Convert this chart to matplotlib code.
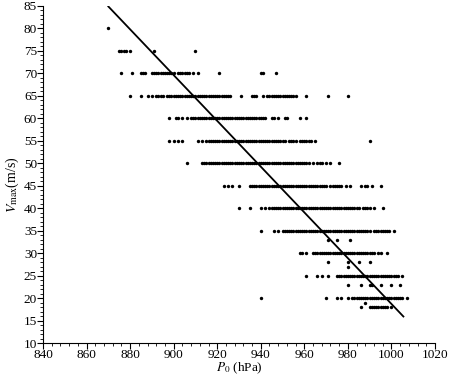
import matplotlib
matplotlib.use("Agg")
import matplotlib.pyplot as plt
from matplotlib.ticker import MultipleLocator

# ---- data: pressure (hPa) values observed at each Vmax level (m/s) ----
p_v80 = [870]
p_v75 = [875, 876, 877, 878, 880, 891, 910]
p_v70 = [876, 881, 885, 886, 887, 890, 891, 892, 893, 894, 895, 896, 897, 898,
         899, 900, 902, 903, 904, 905, 906, 907, 909, 911, 921, 940, 941, 947]
p_v65 = [880, 885, 888, 890, 892, 893, 894, 895, 897, 898, 899, 900, 901, 902,
         903, 904, 905, 906, 907, 908, 909, 910, 911, 912, 913, 914, 915, 916,
         917, 918, 919, 920, 921, 922, 923, 924, 925, 926, 931, 936, 937, 938,
         941, 943, 944, 945, 946, 947, 948, 949, 950, 951, 952, 953, 954, 955,
         956, 961, 971, 980]
p_v60 = [898, 901, 902, 904, 906, 908, 909, 910, 911, 912, 913, 914, 915, 916,
         917, 918, 919, 920, 921, 922, 923, 924, 925, 926, 927, 928, 929, 930,
         931, 932, 933, 934, 935, 936, 937, 938, 939, 940, 941, 942, 945, 946,
         948, 951, 952, 958, 961]
p_v55 = [898, 900, 902, 904, 911, 913, 915, 916, 917, 918, 919, 920, 921, 922,
         923, 924, 925, 926, 927, 928, 929, 930, 931, 932, 933, 934, 935, 936,
         937, 938, 939, 940, 941, 942, 943, 944, 945, 946, 947, 948, 949, 950,
         951, 953, 954, 955, 956, 958, 959, 960, 961, 962, 963, 965, 990]
p_v50 = [906, 913, 914, 915, 916, 917, 918, 919, 920, 921, 922, 923, 924, 925,
         926, 927, 928, 929, 930, 931, 932, 933, 934, 935, 936, 937, 938, 939,
         940, 941, 942, 943, 944, 945, 946, 947, 948, 949, 950, 951, 952, 953,
         954, 955, 956, 957, 958, 959, 960, 961, 962, 964, 966, 967, 968, 970,
         972, 976]
p_v45 = [923, 925, 927, 930, 935, 936, 937, 938, 939, 940, 941, 942, 943, 944,
         945, 946, 947, 948, 949, 950, 951, 952, 953, 954, 955, 956, 957, 958,
         959, 960, 961, 962, 963, 964, 965, 966, 967, 968, 969, 970, 972, 973,
         974, 975, 976, 977, 979, 981, 986, 988, 989, 991, 995]
p_v40 = [930, 935, 940, 942, 944, 945, 946, 947, 948, 949, 950, 951, 952, 953,
         954, 955, 956, 957, 958, 959, 960, 961, 962, 963, 964, 965, 966, 967,
         968, 969, 970, 971, 972, 973, 974, 975, 976, 977, 978, 979, 980, 981,
         982, 983, 984, 985, 987, 988, 989, 990, 992, 996]
p_v35 = [940, 946, 948, 950, 951, 952, 953, 954, 955, 956, 957, 958, 959, 960,
         961, 962, 963, 964, 965, 966, 967, 968, 969, 970, 971, 972, 973, 974,
         975, 976, 977, 978, 979, 980, 981, 982, 983, 984, 985, 986, 987, 988,
         989, 990, 992, 993, 994, 995, 996, 997, 998, 999, 1001]
p_v33 = [971, 975, 981]
p_v30 = [958, 959, 961, 964, 965, 966, 967, 968, 969, 970, 971, 972, 973, 974,
         975, 976, 977, 978, 979, 980, 981, 982, 983, 984, 985, 986, 987, 988,
         989, 990, 991, 992, 994, 995, 998]
p_v28 = [971, 980, 985, 990]
p_v27 = [980]
p_v25 = [961, 966, 968, 971, 975, 976, 977, 978, 979, 980, 981, 982, 983, 984,
         985, 986, 987, 988, 989, 990, 991, 992, 993, 994, 995, 996, 997, 998,
         999, 1000, 1001, 1002, 1003, 1005]
p_v23 = [980, 986, 990, 991, 995, 1000, 1004]
p_v20 = [940, 970, 975, 977, 980, 982, 983, 984, 985, 986, 987, 988, 989, 990,
         991, 992, 993, 994, 995, 996, 997, 998, 999, 1000, 1001, 1002, 1003,
         1004, 1005, 1007]
p_v19 = [988]
p_v18 = [986, 990, 991, 992, 993, 994, 995, 996, 997, 998, 1000]

levels = [80, 75, 70, 65, 60, 55, 50, 45, 40, 35, 33, 30, 28, 27, 25, 23, 20, 19, 18]
rows = [p_v80, p_v75, p_v70, p_v65, p_v60, p_v55, p_v50, p_v45, p_v40, p_v35,
        p_v33, p_v30, p_v28, p_v27, p_v25, p_v23, p_v20, p_v19, p_v18]

# fitted line V = intercept + slope * P, drawn over P range
fit_intercept = 527.9
fit_slope = -0.5092
fit_p_range = [870, 1005.5]

x_ticks = [840, 860, 880, 900, 920, 940, 960, 980, 1000, 1020]
y_ticks = [10, 15, 20, 25, 30, 35, 40, 45, 50, 55, 60, 65, 70, 75, 80, 85]

plt.rcParams['font.family'] = ['Liberation Serif', 'DejaVu Serif']
plt.rcParams['mathtext.fontset'] = 'stix'

fig = plt.figure(figsize=(4.5, 3.75), dpi=100)
ax = fig.add_axes([0.0956, 0.0853, 0.871, 0.8987])

xs, ys = [], []
for v, row in zip(levels, rows):
    xs.extend(row)
    ys.extend([v] * len(row))
ax.scatter(xs, ys, s=6, c='black', linewidths=0, zorder=3)

fy = [fit_intercept + fit_slope * p for p in fit_p_range]
ax.plot(fit_p_range, fy, color='black', lw=1.3, zorder=4)

ax.set_xlim(840, 1020)
ax.set_ylim(10, 85)
ax.set_xticks(x_ticks)
ax.set_yticks(y_ticks)
ax.xaxis.set_minor_locator(MultipleLocator(4))
ax.yaxis.set_minor_locator(MultipleLocator(1))
ax.spines['top'].set_visible(False)
ax.spines['right'].set_visible(False)
ax.tick_params(axis='both', which='major', length=4, width=0.8, labelsize=9.5, pad=0.3)
ax.tick_params(axis='both', which='minor', length=2, width=0.6)

ax.set_xlabel(r'$P_0$ (hPa)', fontsize=9.5)
ax.xaxis.set_label_coords(0.5, -0.074)
ax.xaxis.label.set_verticalalignment('center')
ax.set_ylabel(r'$V_{\max}$(m/s)', fontsize=10)
ax.yaxis.set_label_coords(-0.079, 0.47)
ax.yaxis.label.set_verticalalignment('center')

fig.savefig('out.png', dpi=100)
